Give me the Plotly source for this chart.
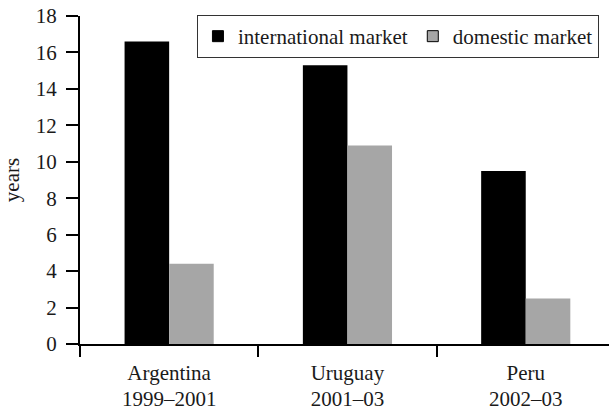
import plotly.graph_objects as go

countries = ["Argentina", "Uruguay", "Peru"]
periods = ["1999–2001", "2001–03", "2002–03"]
international = [16.6, 15.3, 9.5]
domestic = [4.4, 10.9, 2.5]
series_names = ["international market", "domestic market"]
colors = ["#000000", "#a6a6a6"]
y_ticks = [0, 2, 4, 6, 8, 10, 12, 14, 16, 18]

FONT = "Liberation Serif"
FS = 21
TXT = "#1a1a1a"

fig = go.Figure()
for name, vals, col in zip(series_names, [international, domestic], colors):
    fig.add_trace(go.Bar(x=countries, y=vals, name=name,
                         marker=dict(color=col, line=dict(width=0)),
                         showlegend=False))
    fig.add_trace(go.Scatter(x=[None], y=[None], mode="markers", name=name,
                             marker=dict(symbol="square", size=11, color=col,
                                         line=dict(color="#000000", width=1))))

# invisible trace that carries the second line of the category labels
fig.add_trace(go.Scatter(x=periods, y=[None] * len(periods), xaxis="x2", yaxis="y",
                         mode="markers", showlegend=False, hoverinfo="skip"))

xrange = [-0.5, 2.467]
fig.update_layout(
    width=609, height=410,
    margin=dict(l=80, r=0, t=16, b=66, autoexpand=False),
    paper_bgcolor="white", plot_bgcolor="white",
    font=dict(family=FONT, size=FS, color=TXT),
    barmode="group", bargap=0.5, bargroupgap=0,
    legend=dict(orientation="h", x=0.981, xanchor="right", y=1.003, yanchor="top",
                bordercolor="#333333", borderwidth=1, bgcolor="white",
                font=dict(family=FONT, size=FS, color=TXT), itemwidth=30, tracegroupgap=0),
    xaxis=dict(range=xrange, type="category", showline=True, linecolor="black", linewidth=2,
               ticks="outside", tickson="boundaries", ticklen=11, tickwidth=1.5,
               tickcolor="black", showgrid=False, zeroline=False, ticklabelstandoff=9,
               automargin=False, tickfont=dict(family=FONT, size=FS, color=TXT)),
    xaxis2=dict(range=xrange, type="category", overlaying="x", anchor="y", side="bottom",
                showline=False, ticks="outside", ticklen=11, tickcolor="rgba(0,0,0,0)",
                showgrid=False, zeroline=False, automargin=False,
                ticklabelstandoff=25, tickfont=dict(family=FONT, size=FS, color=TXT)),
    yaxis=dict(range=[0, 18], tickvals=y_ticks, showline=True, linecolor="black", linewidth=2,
               ticks="outside", ticklen=12, tickwidth=1.5, tickcolor="black",
               showgrid=False, zeroline=False, ticklabelstandoff=5, automargin=False,
               tickfont=dict(family=FONT, size=FS, color=TXT),
               title=dict(text="years", standoff=12, font=dict(family=FONT, size=FS, color=TXT))),
)

fig.write_html("out.html", config={"displayModeBar": False},
               post_script="document.body.style.margin='0';")
